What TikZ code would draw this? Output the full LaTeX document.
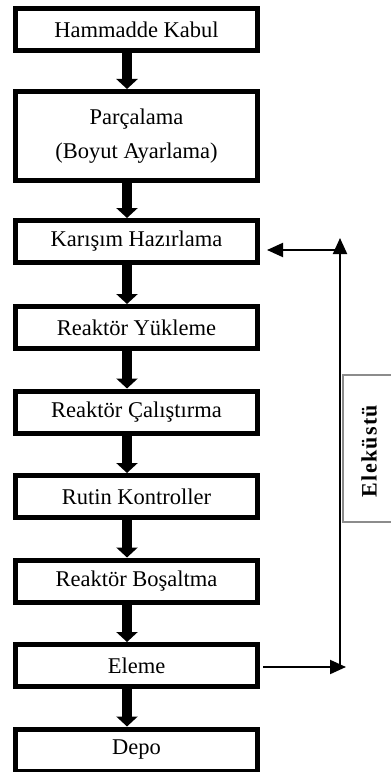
\documentclass[tikz,border=0pt]{standalone}
\usepackage{fontspec}
\setmainfont{Liberation Serif}
\usetikzlibrary{arrows.meta,calc}
\begin{document}
\begin{tikzpicture}[x=1bp,y=-1bp,
  stepbox/.style={draw=black, line width=5bp, minimum width=242bp, minimum height=42bp,
    inner sep=0pt, align=center, fill=white, font=\fontsize{22.5bp}{34bp}\selectfont},
  flow/.style={line width=10bp, -{Triangle[width=21bp,length=10bp]}},
  back/.style={line width=2bp, -{Triangle[width=14bp,length=16bp]}},
  sidebox/.style={draw=black!45, line width=1.2bp},
  sidelabel/.style={rotate=90, font=\fontsize{22bp}{24bp}\selectfont\bfseries\addfontfeature{LetterSpace=6}}]
\useasboundingbox (0,0) rectangle (390,772);
\fill[white] (0,0) rectangle (390,772);
\coordinate (ax) at (127,0);
\coordinate (fx) at (340,0);

\node[stepbox] (n1) at (136.5,29.5) {Hammadde Kabul};
\node[stepbox, minimum height=89bp] (n2) at (136.5,136) {Parçalama\\(Boyut Ayarlama)};
\node[stepbox] (n3) at (136.5,241.5) {Karışım Hazırlama};
\node[stepbox] (n4) at (136.5,327.5) {Reaktör Yükleme};
\node[stepbox] (n5) at (136.5,412) {Reaktör Çalıştırma};
\node[stepbox] (n6) at (136.5,496.5) {Rutin Kontroller};
\node[stepbox] (n7) at (136.5,581) {Reaktör Boşaltma};
\node[stepbox] (n8) at (136.5,665.5) {Eleme};
\node[stepbox] (n9) at (136.5,750) {Depo};

\foreach \a/\b in {n1/n2,n2/n3,n3/n4,n4/n5,n5/n6,n6/n7,n7/n8,n8/n9}
  \draw[flow] (\a.south -| ax) -- (\b.north -| ax);

% feedback loop
\coordinate (e1) at ([shift={(3,1.5)}]n8.east);
\coordinate (b1) at (e1 -| fx);
\coordinate (e2) at ($(b1)+(6,0)$);
\coordinate (t1) at ([shift={(0,2.5)}]n3.east -| fx);
\coordinate (t0) at ($(t1)+(0,-6)$);
\coordinate (t2) at ($(t1)+(0,6)$);
\coordinate (k1) at ([shift={(7,8.5)}]n3.east);
\draw[back] (e1) -- (e2);
\draw[back] (b1) -- (t0);
\draw[back] (t2) -- (k1);

% side box
\draw[sidebox] (400,375) -- (343,375) -- (343,522) -- (400,522);
\node[sidelabel] (lab) at (369,451) {Eleküstü};
\end{tikzpicture}
\end{document}
